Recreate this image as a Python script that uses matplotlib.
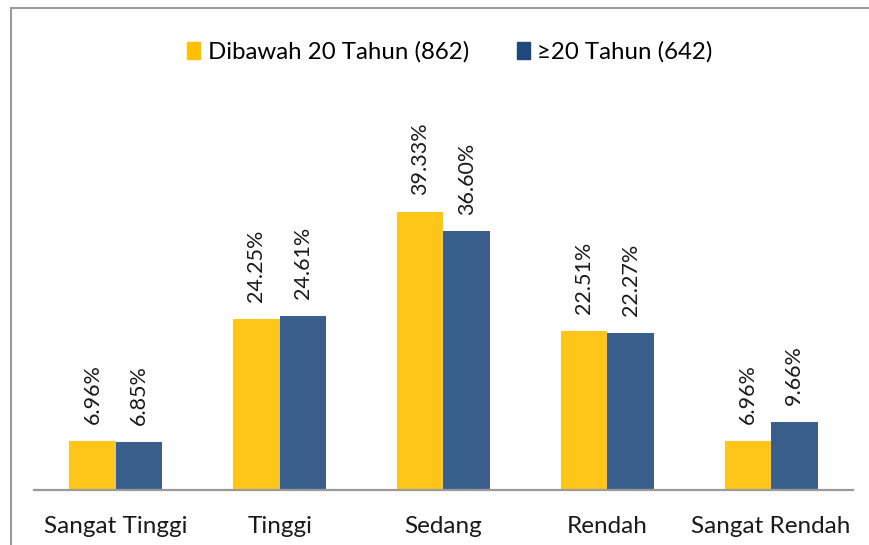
import numpy as np
import matplotlib
matplotlib.use("Agg")
import matplotlib.pyplot as plt
from matplotlib.patches import Rectangle

categories = ["Sangat Tinggi", "Tinggi", "Sedang", "Rendah", "Sangat Rendah"]
under20 = [6.96, 24.25, 39.33, 22.51, 6.96]
over20 = [6.85, 24.61, 36.60, 22.27, 9.66]
series_names = ["Dibawah 20 Tahun (862)", "\u226520 Tahun (642)"]

yellow = "#FFC000"
blue = "#1F497D"

plt.rcParams["font.family"] = ["Lato", "DejaVu Sans"]

W, H = 870, 545
fig = plt.figure(figsize=(W / 100, H / 100), dpi=100)
fig.patch.set_facecolor("white")

# axes placed in pixel terms: baseline at y=490, from x=34 to x=853
ax = fig.add_axes([34 / W, (H - 490) / H, (853 - 34) / W, (490 - 100) / H])

x = np.arange(len(categories))
bw = 0.284
b1 = ax.bar(x - bw / 2, under20, bw, color=yellow, alpha=0.9, label=series_names[0])
b2 = ax.bar(x + bw / 2, over20, bw, color=blue, alpha=0.88, label=series_names[1])

for bars, vals in [(b1, under20), (b2, over20)]:
    for r, v in zip(bars, vals):
        ax.annotate(f"{v:.2f}%", (r.get_x() + r.get_width() / 2, r.get_height()),
                    xytext=(0, 12), textcoords="offset points", rotation=90,
                    ha="center", va="bottom", fontsize=15.5, color="#1a1a1a")

ax.set_xlim(-0.5, len(categories) - 0.5)
ax.set_ylim(0, 390 / 7.07)
ax.set_xticks(x)
ax.set_xticklabels(categories, fontsize=17.5, color="#1a1a1a")
ax.tick_params(axis="x", length=0, pad=19)
ax.set_yticks([])
for s in ["top", "left", "right"]:
    ax.spines[s].set_visible(False)
ax.spines["bottom"].set_color("#9a9a9a")
ax.spines["bottom"].set_linewidth(1.6)
ax.set_facecolor("none")

handles = [Rectangle((0, 0), 1, 1, color=yellow), Rectangle((0, 0), 1, 1, color=blue)]
fig.legend(handles, series_names, loc="center", bbox_to_anchor=(450 / W, 1 - 52 / H),
           ncol=2, frameon=False, fontsize=17.3, handlelength=0.55, handleheight=0.7,
           handletextpad=0.3, columnspacing=2.0)

# outer chart frame (left and top edges visible)
fig.add_artist(Rectangle((11 / W, -0.1), 1.2, 1.1 - 8.5 / H, transform=fig.transFigure,
                         fill=False, edgecolor="#9a9a9a", linewidth=1.5))

fig.savefig("out.png", dpi=100)
